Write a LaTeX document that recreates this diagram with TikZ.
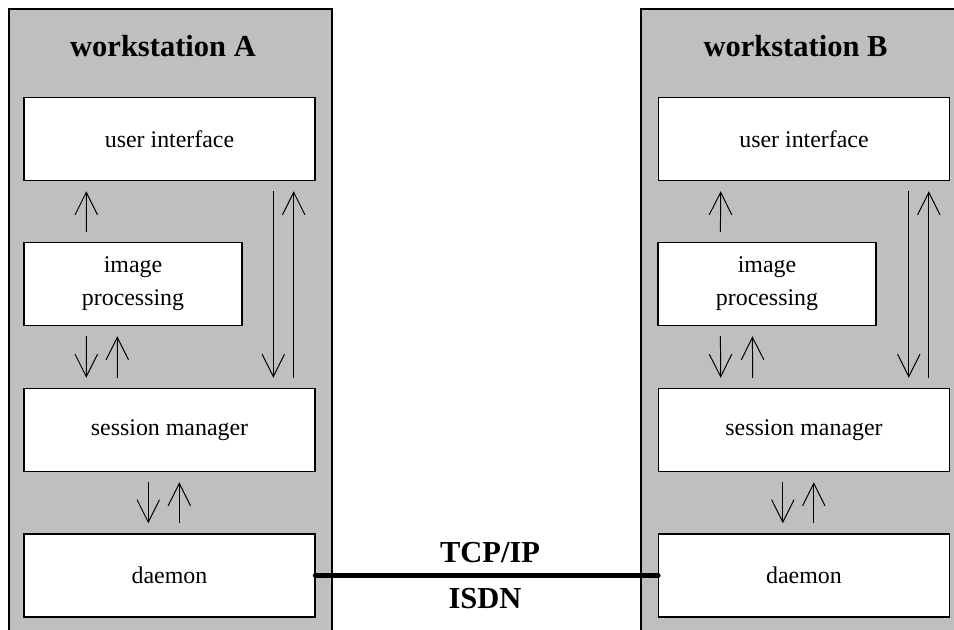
\documentclass[tikz,border=0pt]{standalone}
\usepackage{fontspec}
\setmainfont{Liberation Serif}
\usetikzlibrary{arrows.meta}
\definecolor{panelgray}{gray}{0.75}

\begin{document}
\begin{tikzpicture}[
    panel/.style={draw, line width=1pt, fill=panelgray},
    box/.style={draw, line width=1pt, fill=white, minimum width=7.275cm, minimum height=2.075cm, align=center, inner sep=0pt, font=\fontsize{17}{23.5}\selectfont},
    title/.style={anchor=base, font=\fontsize{21.7}{26}\selectfont\bfseries},
    arrow/.style={-{Straight Barb[length=16pt, width=16pt]}, line width=0.7pt, shorten <=0.25cm, shorten >=0.25cm},
    link/.style={line width=4pt, line cap=round}
]
    \useasboundingbox (0,0) rectangle (23.85,15.725);
    \clip (0,0) rectangle (23.85,15.725);

    % Workstation panels
    \draw[panel] (0.225,-1) rectangle (8.3,15.5);
    \draw[panel] (16.025,-1) rectangle (25,15.5);

    % Workstation A
    \node[title] (tA) at (4.075,14.3) {workstation A};
    \node[box] (uiA) at (4.2375,12.25) {user interface};
    \node[box, minimum width=5.45cm] (ipA) at (3.325,8.625) {image\\processing};
    \node[box] (smA) at (4.2375,4.975) {session manager};
    \node[box] (dmA) at (4.2375,1.3375) {daemon};

    % Workstation B
    \node[title] (tB) at (19.8875,14.3) {workstation B};
    \node[box] (uiB) at (20.1,12.25) {user interface};
    \node[box, minimum width=5.45cm] (ipB) at (19.175,8.625) {image\\processing};
    \node[box] (smB) at (20.1,4.975) {session manager};
    \node[box] (dmB) at (20.1,1.3375) {daemon};

    % Arrows A
    \draw[arrow] ([xshift=1.575cm]ipA.north west) -- ([xshift=1.575cm]uiA.south west);
    \draw[arrow] ([xshift=1.575cm]ipA.south west) -- ([xshift=1.575cm]smA.north west);
    \draw[arrow] ([xshift=2.35cm]smA.north west) -- ([xshift=2.35cm]ipA.south west);
    \draw[arrow] ([xshift=6.25cm]uiA.south west) -- ([xshift=6.25cm]smA.north west);
    \draw[arrow] ([xshift=6.76cm]smA.north west) -- ([xshift=6.76cm]uiA.south west);
    \draw[arrow] ([xshift=3.125cm]smA.south west) -- ([xshift=3.125cm]dmA.north west);
    \draw[arrow] ([xshift=3.9cm]dmA.north west) -- ([xshift=3.9cm]smA.south west);

    % Arrows B
    \draw[arrow] ([xshift=1.575cm]ipB.north west) -- ([xshift=1.575cm]uiB.south west);
    \draw[arrow] ([xshift=1.575cm]ipB.south west) -- ([xshift=1.575cm]smB.north west);
    \draw[arrow] ([xshift=2.375cm]smB.north west) -- ([xshift=2.375cm]ipB.south west);
    \draw[arrow] ([xshift=6.275cm]uiB.south west) -- ([xshift=6.275cm]smB.north west);
    \draw[arrow] ([xshift=6.775cm]smB.north west) -- ([xshift=6.775cm]uiB.south west);
    \draw[arrow] ([xshift=3.125cm]smB.south west) -- ([xshift=3.125cm]dmB.north west);
    \draw[arrow] ([xshift=3.9cm]dmB.north west) -- ([xshift=3.9cm]smB.south west);

    % Network link
    \draw[link] (dmA.east) -- (dmB.west);
    \node[title] (tcp) at (12.25,1.675) {TCP/IP};
    \node[title] (isdn) at (12.125,0.525) {ISDN};
\end{tikzpicture}
\end{document}
